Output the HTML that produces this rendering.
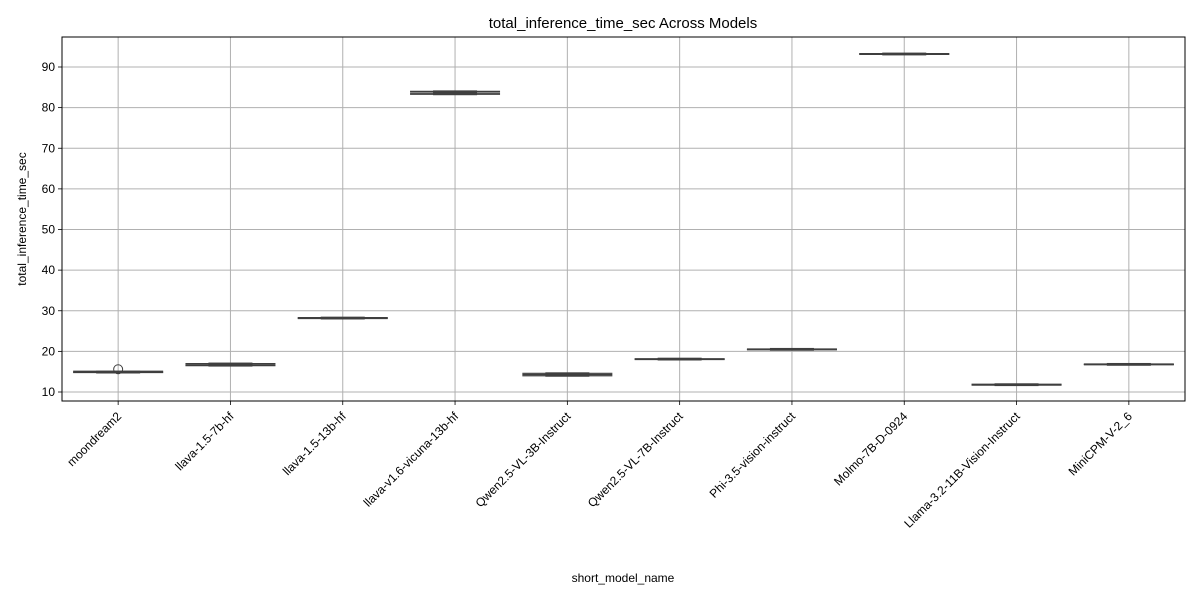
<!DOCTYPE html>
<html><head><meta charset="utf-8"><style>
body{margin:0;background:#fff;}
svg text{font-family:"Liberation Sans","DejaVu Sans",sans-serif;fill:#000;}
</style></head><body>
<svg id="chart" width="1200" height="600">
<text x="623" y="28" font-size="15" text-anchor="middle">total_inference_time_sec Across Models</text>
<g id="grid"></g><g id="boxes"></g><g id="axes"></g>
<text x="623" y="582" font-size="12" text-anchor="middle">short_model_name</text>
<text transform="translate(26,219) rotate(-90)" font-size="12" text-anchor="middle">total_inference_time_sec</text>
</svg>
<script>
const categories=["moondream2","llava-1.5-7b-hf","llava-1.5-13b-hf","llava-v1.6-vicuna-13b-hf","Qwen2.5-VL-3B-Instruct","Qwen2.5-VL-7B-Instruct","Phi-3.5-vision-instruct","Molmo-7B-D-0924","Llama-3.2-11B-Vision-Instruct","MiniCPM-V-2_6"];
const whiskerLow=[14.8,16.5,28.1,83.3,14.0,18.0,20.4,93.1,11.7,16.7];
const q1=[14.8,16.5,28.1,83.3,14.0,18.0,20.4,93.1,11.7,16.7];
const medians=[14.9,16.7,28.2,83.6,14.3,18.1,20.5,93.2,11.8,16.8];
const q3=[15.0,17.0,28.3,84.0,14.6,18.2,20.6,93.3,11.9,16.9];
const whiskerHigh=[15.1,17.0,28.3,84.0,14.6,18.2,20.6,93.3,11.9,16.9];
const outliers=[[15.6],[],[],[],[],[],[],[],[],[]];
const yTicks=[10,20,30,40,50,60,70,80,90];
const L=62,R=1185,T=37,B=401;
const step=(R-L)/categories.length;
const x=i=>L+step*(i+0.5);
const y=v=>392-(v-10)*(325/80);
const NS="http://www.w3.org/2000/svg";
function mk(p,tag,a){const e=document.createElementNS(NS,tag);for(const k in a)e.setAttribute(k,a[k]);p.appendChild(e);return e;}
const grid=document.getElementById('grid'),boxes=document.getElementById('boxes'),axes=document.getElementById('axes');
yTicks.forEach(t=>{
 const g=mk(grid,'line',{x1:L,x2:R,y1:y(t),y2:y(t),stroke:'#b0b0b0','stroke-width':1});
 
 
 mk(axes,'line',{x1:L-4,x2:L,y1:y(t),y2:y(t),stroke:'#000','stroke-width':0.8});
 const tx=mk(axes,'text',{x:L-7,y:y(t)+4,'font-size':12,'text-anchor':'end'});tx.textContent=t;
 
 
});
categories.forEach((c,i)=>{
 const g=mk(grid,'line',{x1:x(i),x2:x(i),y1:T,y2:B,stroke:'#b0b0b0','stroke-width':1});
 
 
 mk(axes,'line',{x1:x(i),x2:x(i),y1:B,y2:B+4,stroke:'#000','stroke-width':0.8});
 const tx=mk(axes,'text',{'font-size':12,'text-anchor':'end',transform:`translate(${x(i)+4},${B+16}) rotate(-45)`});tx.textContent=c;
 
 
 const bg=mk(boxes,'g',{});
 
 
 const cx=x(i);
 mk(bg,'line',{x1:cx-45,x2:cx+45,y1:y(whiskerLow[i]),y2:y(whiskerLow[i]),stroke:'#3f3f3f','stroke-width':1.2});
 mk(bg,'line',{x1:cx-45,x2:cx+45,y1:y(whiskerHigh[i]),y2:y(whiskerHigh[i]),stroke:'#3f3f3f','stroke-width':1.2});
 mk(bg,'line',{x1:cx-45,x2:cx+45,y1:y(medians[i]),y2:y(medians[i]),stroke:'#3f3f3f','stroke-width':1.2});
 const h=Math.max(y(q1[i])-y(q3[i]),0.5);
 mk(bg,'rect',{x:cx-22,y:y(q3[i])-1,width:44,height:h+2,fill:'#3f3f3f'});
 outliers[i].forEach(o=>{
  const ci=mk(bg,'circle',{cx:cx,cy:y(o),r:4.5,fill:'none',stroke:'#3f3f3f','stroke-width':1});
  
  
 });
});
const fr=mk(axes,'rect',{x:L,y:T,width:R-L,height:B-T,fill:'none',stroke:'#000','stroke-width':1});


</script>
</body></html>
